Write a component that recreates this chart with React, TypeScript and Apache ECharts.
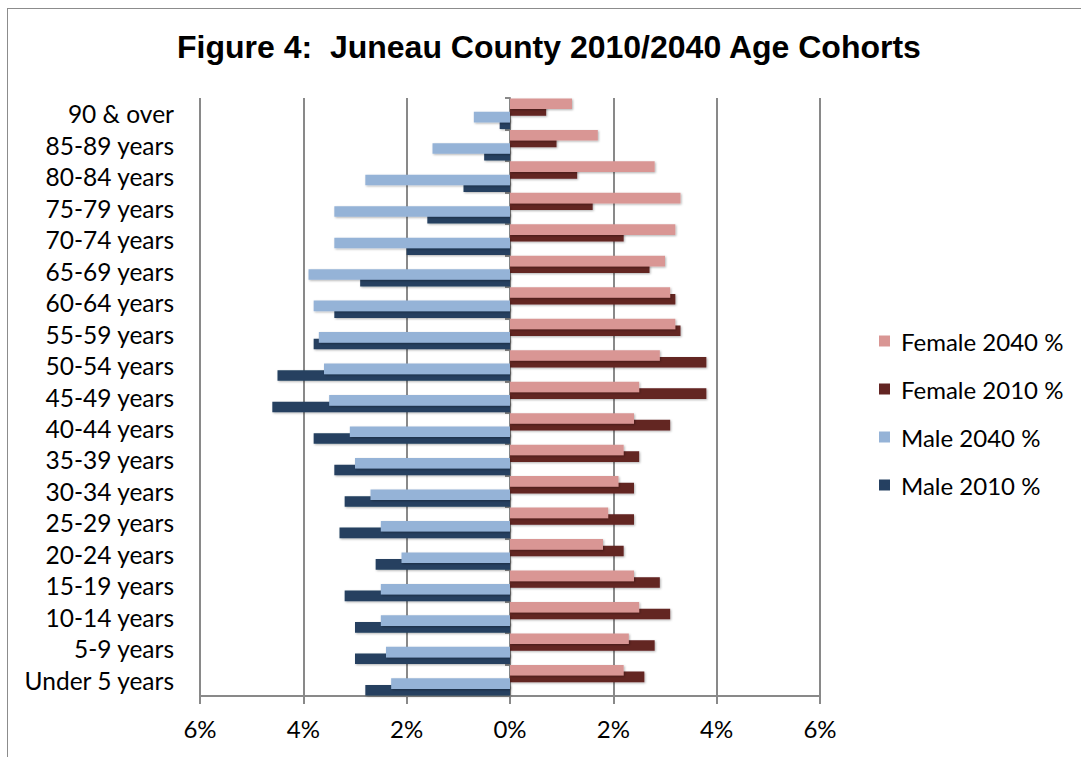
import React, { useEffect, useRef } from "react";
import * as echarts from "echarts";

// Age cohorts, listed from the bottom of the pyramid to the top
const categories = [
  "Under 5 years",
  "5-9 years",
  "10-14 years",
  "15-19 years",
  "20-24 years",
  "25-29 years",
  "30-34 years",
  "35-39 years",
  "40-44 years",
  "45-49 years",
  "50-54 years",
  "55-59 years",
  "60-64 years",
  "65-69 years",
  "70-74 years",
  "75-79 years",
  "80-84 years",
  "85-89 years",
  "90 & over",
];

// Share of the total county population, in percent
const female2040 = [2.2, 2.3, 2.5, 2.4, 1.8, 1.9, 2.1, 2.2, 2.4, 2.5, 2.9, 3.2, 3.1, 3.0, 3.2, 3.3, 2.8, 1.7, 1.2];
const female2010 = [2.6, 2.8, 3.1, 2.9, 2.2, 2.4, 2.4, 2.5, 3.1, 3.8, 3.8, 3.3, 3.2, 2.7, 2.2, 1.6, 1.3, 0.9, 0.7];
const male2040 = [2.3, 2.4, 2.5, 2.5, 2.1, 2.5, 2.7, 3.0, 3.1, 3.5, 3.6, 3.7, 3.8, 3.9, 3.4, 3.4, 2.8, 1.5, 0.7];
const male2010 = [2.8, 3.0, 3.0, 3.2, 2.6, 3.3, 3.2, 3.4, 3.8, 4.6, 4.5, 3.8, 3.4, 2.9, 2.0, 1.6, 0.9, 0.5, 0.2];

const xTicks = { min: -6, max: 6, step: 2 };

const FONT = "Lato, 'Liberation Sans', sans-serif";
const GRID_GRAY = "#898989";

const seriesDefs = [
  { name: "Female 2040 %", data: female2040, sign: 1, color: "#D99694", z: 3 },
  { name: "Female 2010 %", data: female2010, sign: 1, color: "#632523", z: 2 },
  { name: "Male 2040 %", data: male2040, sign: -1, color: "#95B3D7", z: 3 },
  { name: "Male 2010 %", data: male2010, sign: -1, color: "#254061", z: 2 },
];

export default function App() {
  const ref = useRef<HTMLDivElement>(null);

  useEffect(() => {
    if (!ref.current) return;
    const chart = echarts.init(ref.current, undefined, { renderer: "svg" });

    chart.setOption({
      animation: false,
      backgroundColor: "#ffffff",
      title: {
        text: "Figure 4:  Juneau County 2010/2040 Age Cohorts",
        left: 169,
        top: 22,
        padding: 0,
        textStyle: {
          fontFamily: "'Liberation Sans', Arial, sans-serif",
          fontWeight: "bold",
          fontSize: 32,
          color: "#000",
        },
      },
      legend: {
        orient: "vertical",
        left: 871,
        top: 320,
        padding: 0,
        itemWidth: 11,
        itemHeight: 11,
        itemGap: 24,
        icon: "rect",
        data: seriesDefs.map((s) => s.name),
        textStyle: {
          fontFamily: FONT,
          fontSize: 24,
          color: "#000",
          padding: [0, 0, 0, 6],
        },
      },
      grid: {
        left: 192,
        right: 261,
        top: 89,
        bottom: 61,
        containLabel: false,
        outerBoundsMode: "none",
      },
      xAxis: {
        type: "value",
        min: xTicks.min,
        max: xTicks.max,
        interval: xTicks.step,
        axisLine: { show: true, lineStyle: { color: GRID_GRAY, width: 2 } },
        axisTick: { show: true, length: 8, lineStyle: { color: GRID_GRAY, width: 2 } },
        splitLine: { show: true, lineStyle: { color: GRID_GRAY, width: 2 } },
        axisLabel: {
          margin: 20,
          fontFamily: FONT,
          fontSize: 24,
          color: "#000",
          formatter: (v: number) => `${Math.abs(v)}%`,
        },
      },
      yAxis: {
        type: "category",
        data: categories,
        axisLine: { show: true, onZero: true, lineStyle: { color: GRID_GRAY, width: 2 } },
        axisTick: { show: true, interval: 0, length: 5, lineStyle: { color: GRID_GRAY, width: 2 } },
        axisLabel: {
          interval: 0,
          hideOverlap: false,
          margin: 26,
          fontFamily: FONT,
          fontSize: 24.5,
          color: "#000",
        },
      },
      series: seriesDefs.map((s) => ({
        name: s.name,
        type: "bar",
        z: s.z,
        barWidth: 10.6,
        barGap: "-37%",
        itemStyle: {
          color: s.color,
          shadowColor: "rgba(0,0,0,0.3)",
          shadowBlur: 2,
          shadowOffsetX: 1,
          shadowOffsetY: 1,
        },
        data: s.data.map((v) => v * s.sign),
      })),
    });

    return () => chart.dispose();
  }, []);

  return (
    <div
      style={{
        position: "absolute",
        left: 7,
        top: 8,
        width: 1074,
        height: 749,
        boxSizing: "border-box",
        borderTop: "1px solid #8c8c8c",
        borderLeft: "1px solid #8c8c8c",
        background: "#fff",
      }}
    >
      <div ref={ref} style={{ width: 1073, height: 748 }} />
    </div>
  );
}
